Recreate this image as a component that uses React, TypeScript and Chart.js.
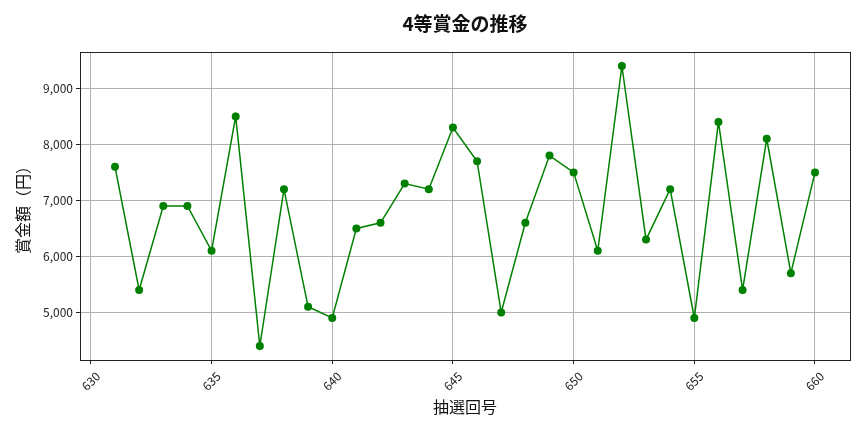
import { useEffect, useRef } from "react";
import { Chart, registerables } from "chart.js";

Chart.register(...registerables);

const draws = [
  631, 632, 633, 634, 635, 636, 637, 638, 639, 640, 641, 642, 643, 644, 645,
  646, 647, 648, 649, 650, 651, 652, 653, 654, 655, 656, 657, 658, 659, 660,
];
const prizes = [
  7600, 5400, 6900, 6900, 6100, 8500, 4400, 7200, 5100, 4900, 6500, 6600, 7300,
  7200, 8300, 7700, 5000, 6600, 7800, 7500, 6100, 9400, 6300, 7200, 4900, 8400,
  5400, 8100, 5700, 7500,
];
const xTicks = [630, 635, 640, 645, 650, 655, 660];
const yTicks = [5000, 6000, 7000, 8000, 9000];
const chartTitle = "4等賞金の推移";

const FONT = "'Noto Sans CJK JP', 'Noto Sans', sans-serif";

// matplotlib-style frame on all four sides + title centred over the plot area
const frame = {
  id: "frame",
  afterDraw(chart: Chart) {
    const { ctx, chartArea } = chart;
    ctx.save();
    ctx.strokeStyle = "#222";
    ctx.lineWidth = 1;
    ctx.strokeRect(
      Math.round(chartArea.left) + 0.5,
      Math.round(chartArea.top) + 0.5,
      Math.round(chartArea.right - chartArea.left),
      Math.round(chartArea.bottom - chartArea.top)
    );
    ctx.fillStyle = "#111";
    ctx.font = `bold 19px ${FONT}`;
    ctx.textAlign = "center";
    ctx.textBaseline = "middle";
    ctx.fillText(chartTitle, (chartArea.left + chartArea.right) / 2, 24);
    ctx.restore();
  },
};

export default function App() {
  const canvasRef = useRef<HTMLCanvasElement | null>(null);

  useEffect(() => {
    if (!canvasRef.current) return;
    const chart = new Chart(canvasRef.current, {
      type: "line",
      data: {
        datasets: [
          {
            data: draws.map((d, i) => ({ x: d, y: prizes[i] })),
            borderColor: "#008000",
            backgroundColor: "#008000",
            borderWidth: 1.5,
            pointRadius: 4,
            pointHoverRadius: 4,
            pointBorderWidth: 0,
            tension: 0,
          },
        ],
      },
      plugins: [frame],
      options: {
        responsive: false,
        animation: false,
        devicePixelRatio: 1,
        layout: { padding: { top: 52, right: 14, left: 0, bottom: 0 } },
        plugins: {
          legend: { display: false },
          tooltip: { enabled: false },
          title: { display: false },
        },
        scales: {
          x: {
            type: "linear",
            min: 629.55,
            max: 661.45,
            afterBuildTicks: (axis: any) => {
              axis.ticks = xTicks.map((v) => ({ value: v }));
            },
            afterFit: (scale: any) => {
              scale.height = 72;
            },
            grid: { color: "#b0b0b0", tickLength: 4, tickColor: "#222" },
            border: { display: false },
            ticks: {
              color: "#222",
              font: { family: FONT, size: 12 },
              minRotation: 45,
              maxRotation: 45,
              padding: 5,
              labelOffset: 7,
              callback: (v: any) => String(v),
            },
            title: {
              display: true,
              text: "抽選回号",
              color: "#111",
              font: { family: FONT, size: 16 },
              padding: { top: 0, bottom: 15 },
            },
          },
          y: {
            min: 4150,
            max: 9650,
            afterBuildTicks: (axis: any) => {
              axis.ticks = yTicks.map((v) => ({ value: v }));
            },
            afterFit: (scale: any) => {
              scale.width = 80;
            },
            grid: { color: "#b0b0b0", tickLength: 4, tickColor: "#222" },
            border: { display: false },
            ticks: {
              color: "#222",
              font: { family: FONT, size: 12 },
              padding: 3,
              callback: (v: any) => Number(v).toLocaleString("en-US"),
            },
            title: {
              display: true,
              text: "賞金額（円）",
              color: "#111",
              font: { family: FONT, size: 16 },
              padding: { top: 13, bottom: 0 },
            },
          },
        },
      },
    });
    return () => chart.destroy();
  }, []);

  return (
    <div style={{ position: "absolute", left: 0, top: 0, width: 864, height: 432, background: "#fff" }}>
      <canvas ref={canvasRef} width={864} height={432} style={{ display: "block" }} />
    </div>
  );
}
